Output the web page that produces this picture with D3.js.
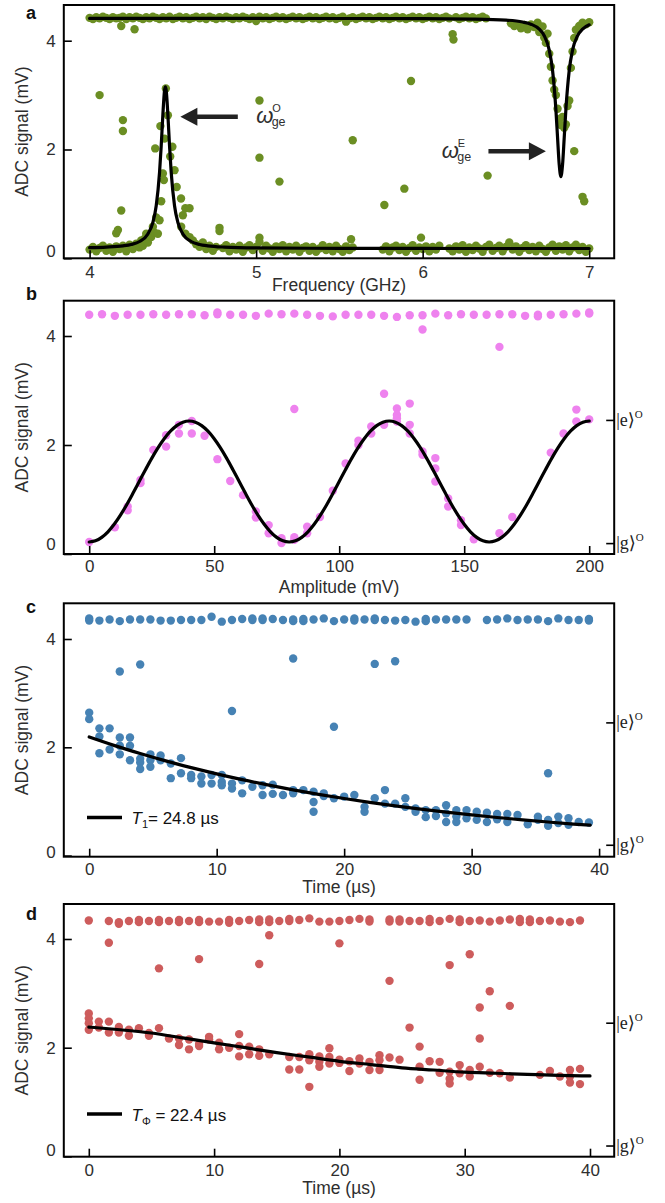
<!DOCTYPE html>
<html><head><meta charset="utf-8">
<script src="https://cdn.jsdelivr.net/npm/d3@7"></script>
<style>body{margin:0;background:#fff}svg{display:block}</style>
</head><body>
<svg id="fig" width="665" height="1203"></svg>
<script>
// ---------- tick labels ----------
const freqTicks=[4,5,6,7];
const ampTicks=[0,50,100,150,200];
const timeTicks=[0,10,20,30,40];
const signalTicks=[0,2,4];
const stateTicks=[0.2,2.46];
const stateNames=["g","e"];

// ---------- panel a : spectroscopy (GHz, mV) ----------
const specUpper=[[4.00,4.42],[4.02,4.40],[4.04,4.43],[4.06,4.41],[4.08,4.44],[4.10,4.42],[4.12,4.40],[4.14,4.43],[4.16,4.41],[4.18,4.42],[4.19,4.27],[4.20,4.44],[4.22,4.40],[4.24,4.43],[4.26,4.41],[4.27,4.21],[4.28,4.44],[4.30,4.42],[4.32,4.40],[4.34,4.43],[4.36,4.41],[4.38,4.44],[4.40,4.42],[4.42,4.40],[4.44,4.43],[4.46,4.41],[4.48,4.44],[4.50,4.40],[4.52,4.42],[4.54,4.44],[4.56,4.41],[4.58,4.43],[4.60,4.40],[4.62,4.42],[4.64,4.44],[4.66,4.41],[4.68,4.43],[4.70,4.40],[4.72,4.44],[4.74,4.42],[4.76,4.40],[4.78,4.43],[4.80,4.41],[4.82,4.44],[4.84,4.42],[4.86,4.40],[4.88,4.43],[4.90,4.41],[4.92,4.44],[4.94,4.42],[4.96,4.40],[4.98,4.43],[5.00,4.36],[5.02,4.44],[5.04,4.41],[5.06,4.43],[5.08,4.40],[5.10,4.42],[5.12,4.44],[5.14,4.41],[5.16,4.43],[5.18,4.40],[5.20,4.42],[5.22,4.44],[5.24,4.41],[5.26,4.43],[5.28,4.40],[5.30,4.42],[5.32,4.44],[5.34,4.41],[5.36,4.43],[5.38,4.40],[5.40,4.42],[5.42,4.44],[5.44,4.41],[5.46,4.43],[5.48,4.40],[5.50,4.42],[5.52,4.44],[5.54,4.35],[5.56,4.41],[5.58,4.43],[5.60,4.40],[5.62,4.42],[5.64,4.44],[5.66,4.41],[5.68,4.43],[5.70,4.40],[5.72,4.42],[5.74,4.44],[5.76,4.41],[5.78,4.43],[5.80,4.40],[5.82,4.42],[5.84,4.44],[5.86,4.41],[5.88,4.43],[5.90,4.40],[5.92,4.42],[5.94,4.44],[5.96,4.41],[5.98,4.43],[6.00,4.40],[6.02,4.42],[6.04,4.44],[6.06,4.41],[6.08,4.43],[6.10,4.40],[6.12,4.42],[6.14,4.44],[6.16,4.41],[6.18,4.12],[6.185,4.02],[6.20,4.43],[6.22,4.40],[6.24,4.42],[6.26,4.44],[6.28,4.41],[6.30,4.43],[6.32,4.40],[6.34,4.42],[6.36,4.44],[6.38,4.41],[6.53,4.32],[6.55,4.27],[6.57,4.30],[6.59,4.23],[6.61,4.29],[6.63,4.21],[6.65,4.30],[6.67,4.25],[6.69,4.33],[6.70,4.16],[6.72,4.26],[6.73,4.06],[6.74,3.96],[6.75,4.13],[6.76,3.76],[6.77,3.52],[6.78,3.27],[6.79,3.10],[6.80,3.00],[6.81,2.75],[6.82,2.56],[6.83,2.45],[6.84,2.60],[6.85,2.40],[6.86,2.46],[6.87,2.80],[6.88,2.90],[6.89,3.50],[6.90,3.80],[6.91,4.05],[6.92,4.20],[6.94,4.27],[6.96,4.33],[6.98,4.30],[7.00,4.34]];
const specLower=[[4.00,0.16],[4.02,0.21],[4.04,0.13],[4.06,0.19],[4.08,0.23],[4.10,0.14],[4.12,0.20],[4.14,0.12],[4.16,0.22],[4.16,0.46],[4.17,0.52],[4.18,0.17],[4.20,0.23],[4.22,0.13],[4.24,0.25],[4.26,0.17],[4.28,0.27],[4.30,0.20],[4.31,0.33],[4.32,0.23],[4.33,0.36],[4.34,0.45],[4.35,0.29],[4.36,0.40],[4.37,0.39],[4.38,0.58],[4.39,0.47],[4.394,2.02],[4.40,0.75],[4.41,0.45],[4.42,0.70],[4.425,2.43],[4.43,1.05],[4.44,1.56],[4.446,1.44],[4.45,2.20],[4.458,3.12],[4.47,2.63],[4.484,1.87],[4.497,2.05],[4.51,1.62],[4.523,1.31],[4.549,1.10],[4.55,0.58],[4.56,0.79],[4.575,0.92],[4.575,0.45],[4.60,0.92],[4.60,0.39],[4.62,0.33],[4.64,0.26],[4.66,0.21],[4.68,0.29],[4.70,0.17],[4.72,0.23],[4.74,0.14],[4.76,0.21],[4.78,0.56],[4.78,0.50],[4.80,0.19],[4.82,0.24],[4.84,0.13],[4.86,0.21],[4.88,0.16],[4.90,0.23],[4.92,0.12],[4.94,0.20],[4.96,0.24],[4.98,0.15],[5.00,0.21],[5.02,0.38],[5.02,0.30],[5.04,0.14],[5.06,0.23],[5.08,0.18],[5.10,0.12],[5.12,0.22],[5.14,0.17],[5.16,0.24],[5.18,0.13],[5.20,0.21],[5.22,0.16],[5.24,0.23],[5.26,0.12],[5.28,0.19],[5.30,0.22],[5.32,0.14],[5.34,0.21],[5.36,0.12],[5.38,0.18],[5.40,0.24],[5.42,0.15],[5.44,0.21],[5.46,0.13],[5.48,0.23],[5.50,0.17],[5.52,0.12],[5.54,0.22],[5.56,0.15],[5.57,0.35],[5.58,0.20],[5.76,0.16],[5.78,0.22],[5.80,0.13],[5.82,0.20],[5.84,0.23],[5.86,0.15],[5.88,0.21],[5.90,0.12],[5.92,0.19],[5.94,0.24],[5.96,0.14],[5.98,0.20],[6.00,0.17],[6.02,0.22],[6.04,0.13],[6.06,0.21],[6.08,0.16],[6.10,0.23],[6.16,0.18],[6.18,0.13],[6.20,0.22],[6.22,0.16],[6.24,0.24],[6.26,0.12],[6.28,0.20],[6.30,0.15],[6.32,0.23],[6.34,0.18],[6.36,0.12],[6.38,0.21],[6.40,0.25],[6.42,0.14],[6.44,0.19],[6.46,0.23],[6.48,0.13],[6.50,0.21],[6.52,0.29],[6.54,0.16],[6.56,0.22],[6.58,0.12],[6.60,0.19],[6.62,0.24],[6.64,0.15],[6.66,0.21],[6.68,0.13],[6.70,0.23],[6.72,0.17],[6.74,0.12],[6.76,0.20],[6.78,0.25],[6.80,0.14],[6.82,0.22],[6.84,0.16],[6.86,0.24],[6.88,0.13],[6.90,0.20],[6.92,0.25],[6.94,0.15],[6.96,0.21],[6.98,0.12],[7.00,0.18]];
const specOutliers=[[4.06,3.0],[4.20,2.54],[4.20,2.34],[4.19,0.88],[5.02,2.9],[5.02,1.85],[5.14,1.41],[5.58,2.17],[5.77,0.98],[5.89,1.28],[5.93,3.26],[5.99,0.38],[6.39,1.52],[6.91,1.97],[6.96,1.13],[6.97,1.05]];
const fitOddFreq=[4.00,4.10,4.20,4.25,4.30,4.35,4.38,4.40,4.42,4.43,4.44,4.45,4.455,4.46,4.47,4.48,4.49,4.51,4.53,4.56,4.61,4.66,4.71,4.81,5.00,5.50,6.00,6.50,7.00];
const fitOddVal=[0.195,0.206,0.229,0.255,0.309,0.447,0.661,0.966,1.578,2.067,2.642,3.084,3.15,3.084,2.642,2.067,1.578,0.966,0.661,0.447,0.309,0.255,0.229,0.206,0.191,0.183,0.181,0.18,0.18];
const fitEvenFreq=[4.00,5.00,6.00,6.30,6.50,6.60,6.65,6.70,6.73,6.76,6.78,6.80,6.81,6.82,6.83,6.84,6.85,6.86,6.88,6.90,6.93,6.96,7.00];
const fitEvenVal=[4.41,4.409,4.405,4.397,4.378,4.344,4.304,4.213,4.092,3.828,3.453,2.733,2.217,1.72,1.50,1.72,2.217,2.733,3.453,3.828,4.092,4.213,4.292];

// ---------- panel b : Rabi (mV amplitude, mV signal) ----------
const ampB=[0,5.13,10.26,15.38,20.51,25.64,30.77,35.9,41.03,46.15,51.28,56.41,61.54,66.67,71.79,76.92,82.05,87.18,92.31,97.44,102.56,107.69,112.82,117.95,123.08,128.21,133.33,138.46,143.59,148.72,153.85,158.97,164.1,169.23,174.36,179.49,184.62,189.74,194.87,200];
const rabiUpper=[4.39,4.40,4.37,4.39,4.39,4.40,4.39,4.40,4.40,4.38,4.40,4.39,4.39,4.37,4.41,4.40,4.41,4.39,4.37,4.36,4.39,4.39,4.39,4.37,4.35,4.38,4.38,4.41,4.38,4.40,4.39,4.39,4.40,4.40,4.37,4.39,4.39,4.40,4.41,4.41];
const rabiExtra=[[51.28,4.43],[179.49,4.36],[200,4.43],[82.05,2.66],[133.33,4.12],[164.1,3.80]];
const rabiLower=[[0,0.22],[10.26,0.49],[15.38,0.87],[15.38,0.80],[20.51,1.36],[20.51,1.30],[25.64,1.91],[30.77,2.18],[30.77,1.97],[35.9,2.37],[35.9,2.21],[41.03,2.44],[41.03,2.21],[46.15,2.17],[51.28,1.74],[56.41,1.34],[61.54,1.08],[66.67,0.78],[66.67,0.67],[71.79,0.53],[71.79,0.38],[76.92,0.29],[76.92,0.20],[82.05,0.31],[82.05,0.26],[87.18,0.50],[87.18,0.38],[92.31,0.68],[97.44,1.16],[102.56,1.66],[107.69,2.08],[107.69,2.00],[112.82,2.34],[112.82,2.21],[117.95,2.94],[117.95,2.37],[123.08,2.67],[123.08,2.55],[123.08,2.49],[123.08,2.43],[128.21,2.76],[128.21,2.37],[128.21,2.21],[133.33,1.88],[133.33,1.82],[138.46,1.76],[138.46,1.57],[138.46,1.33],[143.59,1.02],[143.59,0.87],[148.72,0.62],[148.72,0.53],[153.85,0.27],[164.1,0.38],[169.23,0.68],[184.62,1.86],[189.74,2.21],[194.87,2.65],[194.87,2.43],[200,2.47]];
const rabiFitAmp=[0,2.5,5,7.5,10,12.5,15,17.5,20,22.5,25,27.5,30,32.5,35,37.5,40,42.5,45,47.5,50,52.5,55,57.5,60,62.5,65,67.5,70,72.5,75,77.5,80,82.5,85,87.5,90,92.5,95,97.5,100,102.5,105,107.5,110,112.5,115,117.5,120,122.5,125,127.5,130,132.5,135,137.5,140,142.5,145,147.5,150,152.5,155,157.5,160,162.5,165,167.5,170,172.5,175,177.5,180,182.5,185,187.5,190,192.5,195,197.5,200];
const rabiFitVal=[0.22,0.241,0.305,0.407,0.545,0.713,0.905,1.114,1.33,1.546,1.755,1.947,2.115,2.253,2.355,2.419,2.44,2.419,2.355,2.253,2.115,1.947,1.755,1.546,1.33,1.114,0.905,0.713,0.545,0.407,0.305,0.241,0.22,0.241,0.305,0.407,0.545,0.713,0.905,1.114,1.33,1.546,1.755,1.947,2.115,2.253,2.355,2.419,2.44,2.419,2.355,2.253,2.115,1.947,1.755,1.546,1.33,1.114,0.905,0.713,0.545,0.407,0.305,0.241,0.22,0.241,0.305,0.407,0.545,0.713,0.905,1.114,1.33,1.546,1.755,1.947,2.115,2.253,2.355,2.419,2.44];

// ---------- panel c : T1 (us, mV) ----------
const t1Upper=[[0,4.38],[0,4.34],[0.8,4.34],[1.6,4.36],[2.4,4.33],[3.2,4.36],[4.0,4.36],[4.8,4.36],[5.6,4.34],[6.4,4.34],[7.2,4.35],[8.0,4.35],[8.8,4.35],[9.6,4.41],[10.4,4.32],[11.2,4.35],[12.0,4.37],[12.8,4.38],[12.8,4.35],[13.6,4.38],[13.6,4.35],[14.4,4.37],[15.2,4.35],[16.0,4.36],[16.0,4.33],[16.8,4.37],[16.8,4.33],[17.6,4.36],[18.4,4.38],[19.2,4.33],[20.0,4.36],[20.8,4.38],[20.8,4.34],[21.6,4.36],[22.4,4.38],[22.4,4.35],[23.2,4.35],[24.0,4.34],[24.8,4.35],[25.6,4.32],[26.4,4.37],[26.4,4.33],[27.2,4.36],[28.0,4.36],[28.8,4.36],[29.6,4.36],[31.2,4.35],[32.0,4.36],[32.8,4.38],[33.6,4.35],[34.4,4.36],[35.2,4.36],[36.0,4.33],[36.8,4.38],[37.6,4.35],[38.4,4.35],[39.2,4.37],[39.2,4.34]];
const t1Lower=[[0,2.64],[0,2.52],[0.8,2.35],[0.8,2.2],[0.8,1.89],[1.6,2.35],[1.6,1.96],[2.4,2.18],[2.4,2.03],[2.4,1.87],[3.2,2.18],[3.2,2.03],[3.2,1.76],[4.0,1.79],[4.0,1.72],[4.0,1.6],[4.8,1.87],[4.8,1.76],[4.8,1.64],[5.6,1.85],[5.6,1.76],[6.4,1.7],[6.4,1.43],[7.2,1.8],[7.2,1.52],[8.0,1.49],[8.0,1.43],[8.8,1.46],[8.8,1.33],[9.6,1.49],[9.6,1.33],[10.4,1.49],[10.4,1.36],[10.4,1.3],[11.2,1.33],[11.2,1.24],[12.0,1.39],[12.0,1.15],[12.8,1.27],[13.6,1.3],[13.6,1.12],[14.4,1.31],[14.4,1.14],[15.2,1.12],[16.0,1.21],[16.0,1.15],[16.8,1.21],[17.6,1.18],[17.6,0.99],[17.6,0.81],[18.4,1.15],[18.4,1.1],[19.2,1.06],[20.0,1.09],[20.8,1.12],[21.6,0.9],[21.6,0.81],[22.4,1.06],[23.2,1.21],[23.2,0.96],[24.0,0.96],[24.8,1.06],[24.8,0.9],[25.6,0.87],[25.6,0.81],[26.4,0.84],[26.4,0.71],[27.2,0.84],[27.2,0.73],[28.0,0.93],[28.0,0.78],[28.0,0.62],[28.8,0.84],[28.8,0.72],[28.8,0.62],[29.6,0.84],[29.6,0.69],[30.4,0.81],[30.4,0.66],[31.2,0.79],[31.2,0.62],[32.0,0.77],[32.0,0.67],[32.8,0.77],[32.8,0.62],[33.6,0.75],[34.4,0.58],[35.2,0.72],[35.2,0.66],[36.0,0.66],[36.0,0.55],[36.8,0.72],[36.8,0.6],[37.6,0.69],[37.6,0.57],[38.4,0.62],[39.2,0.61]];
const t1Outliers=[[2.4,3.40],[4.0,3.53],[16.0,3.64],[22.4,3.54],[24.0,3.59],[11.2,2.67],[19.2,2.38],[36.0,1.52]];
const t1FitTime=[0,2,4,6,8,10,12,14,16,18,20,22,24,26,28,30,32,34,36,38,39.3];
const t1FitVal=[2.19,2.031,1.885,1.749,1.625,1.510,1.403,1.306,1.215,1.132,1.055,0.984,0.919,0.859,0.803,0.751,0.704,0.660,0.620,0.583,0.562];

// ---------- panel d : T_phi (us, mV) ----------
const tpUpper=[[0,4.34],[1.6,4.33],[2.4,4.31],[2.4,4.28],[3.2,4.33],[4.0,4.35],[4.0,4.31],[4.8,4.33],[5.6,4.35],[5.6,4.31],[6.4,4.33],[7.2,4.35],[7.2,4.31],[8.0,4.33],[8.8,4.35],[8.8,4.31],[9.6,4.32],[10.4,4.32],[11.2,4.35],[11.2,4.30],[12.0,4.33],[12.8,4.35],[13.6,4.36],[13.6,4.31],[14.4,4.36],[14.4,4.31],[15.2,4.33],[16.0,4.37],[16.0,4.33],[16.8,4.35],[17.6,4.38],[18.4,4.32],[19.2,4.32],[20.0,4.33],[20.8,4.35],[21.6,4.37],[22.4,4.36],[22.4,4.32],[24.0,4.36],[24.0,4.32],[24.8,4.36],[24.8,4.32],[25.6,4.33],[26.4,4.33],[27.2,4.37],[27.2,4.31],[28.0,4.33],[28.8,4.37],[29.6,4.36],[29.6,4.31],[30.4,4.33],[31.2,4.34],[32.0,4.32],[32.8,4.34],[33.6,4.36],[34.4,4.37],[34.4,4.31],[35.2,4.36],[35.2,4.31],[36.0,4.33],[36.8,4.34],[37.6,4.32],[38.4,4.31],[39.2,4.34]];
const tpLower=[[0,2.63],[0,2.54],[0,2.45],[0,2.33],[0.8,2.48],[0.8,2.37],[1.6,2.48],[1.6,2.28],[2.4,2.38],[2.4,2.28],[3.2,2.33],[3.2,2.22],[4.0,2.36],[4.8,2.27],[4.8,2.22],[5.6,2.36],[6.4,2.17],[7.2,2.17],[7.2,2.05],[8.0,2.15],[8.0,1.97],[8.8,2.07],[8.8,2.03],[9.6,2.2],[9.6,2.15],[10.4,2.09],[10.4,1.97],[11.2,2.0],[12.0,2.25],[12.0,2.03],[12.0,1.84],[12.8,2.02],[12.8,1.88],[13.6,1.97],[13.6,1.85],[14.4,1.88],[16.0,1.83],[16.0,1.6],[16.8,1.83],[16.8,1.6],[17.6,1.88],[17.6,1.77],[18.4,1.84],[18.4,1.74],[18.4,1.65],[19.2,1.99],[19.2,1.83],[19.2,1.71],[20.0,1.78],[20.0,1.72],[20.8,1.75],[20.8,1.57],[21.6,1.8],[21.6,1.71],[22.4,1.74],[22.4,1.59],[23.2,1.86],[23.2,1.77],[23.2,1.59],[24.0,1.82],[24.8,1.78],[26.4,1.65],[26.4,1.41],[27.2,1.75],[28.0,1.74],[28.0,1.54],[28.8,1.56],[28.8,1.43],[28.8,1.34],[29.6,1.68],[29.6,1.53],[30.4,1.59],[30.4,1.47],[31.2,1.65],[32.0,1.54],[32.8,1.53],[33.6,1.45],[36.0,1.5],[36.8,1.57],[37.6,1.47],[38.4,1.59],[38.4,1.47],[38.4,1.36],[39.2,1.61],[39.2,1.33]];
const tpOutliers=[[1.6,3.93],[5.6,3.46],[8.8,3.63],[13.6,3.54],[14.4,4.07],[20.0,3.92],[24.0,3.23],[28.8,3.52],[30.4,3.72],[32.0,3.04],[31.2,2.74],[33.6,2.77],[25.6,2.37],[31.2,2.17],[26.4,2.02],[17.6,1.28]];
const tpFitTime=[0,2.5,5,7.5,10,12.5,15,17.5,20,22.5,25,27.5,30,32.5,35,37.5,40];
const tpFitVal=[2.38,2.33,2.27,2.18,2.09,2.0,1.91,1.83,1.75,1.69,1.63,1.59,1.55,1.53,1.51,1.49,1.48];

// ---------- drawing ----------
const svg=d3.select("#fig");
const FONT='"Liberation Sans", Arial, Helvetica, sans-serif';
const SERIF='"Liberation Serif", "DejaVu Serif", "Times New Roman", serif';
const XL=63.8, XR=614.2;
const TXT="#2e2e2e";

function styleAxis(a){
  a.attr("font-size",null).attr("font-family",null);
  a.select(".domain").remove();
  a.selectAll(".tick line").attr("stroke","#000").attr("stroke-width",1.6);
  a.selectAll(".tick text").attr("fill",TXT).attr("font-size",17).attr("font-family",FONT);
}

function panel(o){
  const g=svg.append("g");
  const R=4.2;
  o.sets.forEach(s=>{
    g.append("g").selectAll("circle").data(s).join("circle")
      .attr("cx",d=>o.x(d[0])).attr("cy",d=>o.y(d[1])).attr("r",R).attr("fill",o.color);
  });
  const line=d3.line().x(d=>o.x(d[0])).y(d=>o.y(d[1])).curve(d3.curveMonotoneX);
  o.fits.forEach(f=>{
    g.append("path").datum(f).attr("fill","none").attr("stroke","#000")
      .attr("stroke-width",3.2).attr("stroke-linejoin","round").attr("stroke-linecap","round").attr("d",line);
  });
  g.append("rect").attr("x",XL).attr("y",o.top).attr("width",XR-XL).attr("height",o.bottom-o.top)
    .attr("fill","none").attr("stroke","#000").attr("stroke-width",2);
  const ax=g.append("g").attr("transform",`translate(0,${o.bottom})`)
    .call(d3.axisBottom(o.x).tickValues(o.xticks).tickSize(-8).tickPadding(o.xpad).tickFormat(d3.format("d")));
  styleAxis(ax);
  const ay=g.append("g").attr("transform",`translate(${XL},0)`)
    .call(d3.axisLeft(o.y).tickValues(signalTicks).tickSize(-8).tickPadding(8).tickFormat(d3.format("d")));
  styleAxis(ay);
  ay.selectAll(".tick").filter(d=>d===0).select("text").attr("transform",`translate(0,${-o.zeroShift})`);
  if(o.states){
    const ar=g.append("g").attr("transform",`translate(${XR},0)`)
      .call(d3.axisRight(o.y).tickValues(stateTicks).tickSize(-8).tickFormat(""));
    styleAxis(ar);
    stateTicks.forEach((v,i)=>{
      const t=g.append("text").attr("x",XR+2).attr("y",o.y(v)+6).attr("font-family",SERIF)
        .attr("font-size",18).attr("fill","#222");
      t.append("tspan").text("|"+stateNames[i]+"\u27E9");
      t.append("tspan").attr("dy",-8).attr("font-size",11).text("O");
    });
  }
  g.append("text").attr("transform",`translate(28,${(o.top+o.bottom)/2}) rotate(-90)`)
    .attr("text-anchor","middle").attr("font-family",FONT).attr("font-size",17.5).attr("fill",TXT)
    .text("ADC signal (mV)");
  g.append("text").attr("x",(XL+XR)/2).attr("y",o.xlabelY).attr("text-anchor","middle")
    .attr("font-family",FONT).attr("font-size",17.5).attr("fill",TXT).text(o.xlabel);
  g.append("text").attr("x",26).attr("y",o.letterY).attr("font-family",FONT).attr("font-weight","bold")
    .attr("font-size",18).attr("fill","#111").text(o.letter);
  return g;
}

// panel a
const xA=d3.scaleLinear().domain([4,7]).range([89.6,589.2]);
const yA=d3.scaleLinear().domain([0,4]).range([258.3,40.7]);
const gA=panel({x:xA,y:yA,top:5,bottom:258.3,color:"#6b8e23",
  sets:[specUpper,specLower,specOutliers],
  fits:[d3.zip(fitOddFreq,fitOddVal),d3.zip(fitEvenFreq,fitEvenVal)],
  xticks:freqTicks,xpad:8,zeroShift:7.5,states:false,
  xlabel:"Frequency (GHz)",xlabelY:291,letter:"a",letterY:19});

const arrowsA=[{tip:4.545,tail:4.89,v:2.6},{tip:6.74,tail:6.395,v:1.97}];
arrowsA.forEach(a=>{
  const xt=xA(a.tip), xb=xA(a.tail), y=yA(a.v), dir=Math.sign(xb-xt), hl=17, hw=9;
  gA.append("line").attr("x1",xt+dir*(hl-1)).attr("x2",xb).attr("y1",y).attr("y2",y)
    .attr("stroke","#222").attr("stroke-width",4.5);
  gA.append("path").attr("d",`M${xt},${y} L${xt+dir*hl},${y-hw} L${xt+dir*hl},${y+hw} Z`).attr("fill","#222");
});
const omegaLabels=[{f:5.0,v:2.6,sup:"O"},{f:6.115,v:1.97,sup:"E"}];
omegaLabels.forEach(l=>{
  const x=xA(l.f), y=yA(l.v);
  gA.append("text").attr("x",x).attr("y",y+6.5).attr("font-family",FONT).attr("font-style","italic")
    .attr("font-size",22).attr("fill",TXT).text("\u03C9");
  gA.append("text").attr("x",x+16).attr("y",y-4.5).attr("font-family",FONT)
    .attr("font-size",11).attr("fill",TXT).text(l.sup);
  gA.append("text").attr("x",x+15.5).attr("y",y+9.5).attr("font-family",FONT)
    .attr("font-size",12.5).attr("fill",TXT).text("ge");
});

// panel b
const xB=d3.scaleLinear().domain([0,200]).range([89.2,589.2]);
const yB=d3.scaleLinear().domain([0,4]).range([554,336]);
panel({x:xB,y:yB,top:300.7,bottom:554,color:"#ee82ee",
  sets:[d3.zip(ampB,rabiUpper),rabiExtra,rabiLower],
  fits:[d3.zip(rabiFitAmp,rabiFitVal)],
  xticks:ampTicks,xpad:6,zeroShift:10,states:true,
  xlabel:"Amplitude (mV)",xlabelY:593,letter:"b",letterY:300});

// panel c
const xC=d3.scaleLinear().domain([0,40]).range([89.2,599.1]);
const yC=d3.scaleLinear().domain([0,4]).range([855.6,639]);
const gC=panel({x:xC,y:yC,top:603.3,bottom:856.7,color:"#4682b4",
  sets:[t1Upper,t1Lower,t1Outliers],
  fits:[d3.zip(t1FitTime,t1FitVal)],
  xticks:timeTicks,xpad:6,zeroShift:4,states:true,
  xlabel:"Time (\u00B5s)",xlabelY:893,letter:"c",letterY:613});

// panel d
const xD=d3.scaleLinear().domain([0,40]).range([88.8,590]);
const yD=d3.scaleLinear().domain([0,4]).range([1156.4,939]);
const gD=panel({x:xD,y:yD,top:904,bottom:1156.7,color:"#cd5c5c",
  sets:[tpUpper,tpLower,tpOutliers],
  fits:[d3.zip(tpFitTime,tpFitVal)],
  xticks:timeTicks,xpad:7,zeroShift:6.5,states:true,
  xlabel:"Time (\u00B5s)",xlabelY:1194,letter:"d",letterY:920});

function legend(g,y,sub,val){
  g.append("line").attr("x1",87).attr("x2",122).attr("y1",y).attr("y2",y)
    .attr("stroke","#000").attr("stroke-width",3.5);
  const t=g.append("text").attr("x",131.5).attr("y",y+6.5).attr("font-family",FONT)
    .attr("font-size",17).attr("fill","#111");
  t.append("tspan").attr("font-style","italic").text("T");
  t.append("tspan").attr("font-size",11).attr("dy",4).text(sub);
  t.append("tspan").attr("dy",-4).text(val);
}
legend(gC,817.5,"1","= 24.8 \u00B5s");
legend(gD,1114,"\u03A6"," = 22.4 \u00B5s");
</script>
</body></html>
